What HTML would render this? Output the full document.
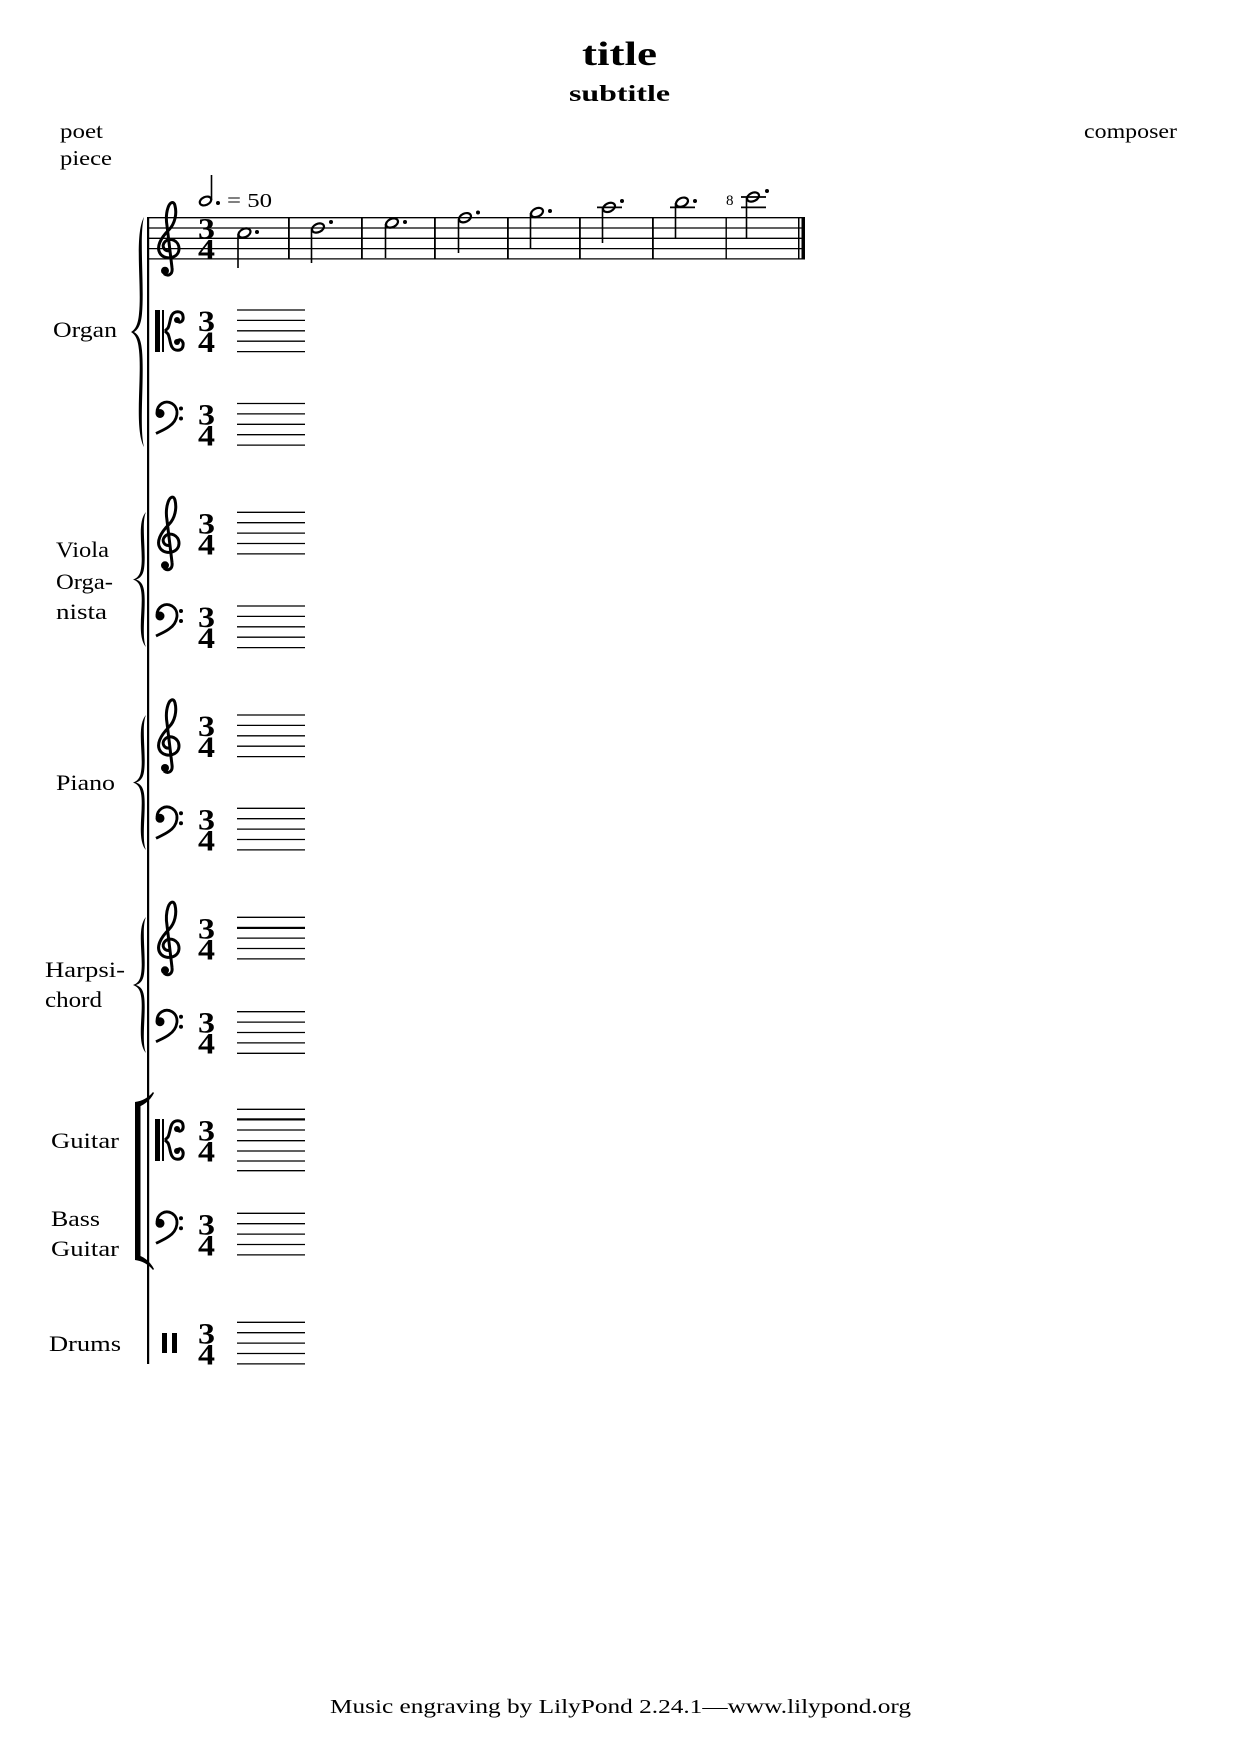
<!DOCTYPE html>
<html><head><meta charset="utf-8"><style>
html,body{margin:0;padding:0;background:#fff}
svg{display:block}
text{font-family:"Liberation Serif",serif;fill:#000}
</style></head><body>
<svg width="1241" height="1754" viewBox="0 0 1241 1754" xmlns="http://www.w3.org/2000/svg">
<defs>
<g id="treble">
<path d="M13,33 C7,34 4,28 8,24 C13,19 22,23 22,31 C22,40 10,43 4,37 C-2,30 4,20 12,12 C18,6 20,-4 18,-12 C17,-17 13,-16 11,-10 C9,-4 9,2 10,8 L15,50 C16,57 11,59 7,56" fill="none" stroke="#000" stroke-width="3"/>
<circle cx="8" cy="53" r="4"/>
</g>
<g id="bass">
<circle cx="5" cy="10" r="4.5"/>
<path d="M2,9 C2,1 10,-4 17,0 C25,5 23,17 14,23 C10,26 5,28 1,30" fill="none" stroke="#000" stroke-width="2.8"/>
<circle cx="26" cy="5" r="2"/><circle cx="26" cy="15" r="2"/>
</g>
<g id="alto">
<rect x="0" y="0" width="5" height="42"/><rect x="7" y="0" width="2" height="42"/>
<path d="M10,21 L13,18 C15,14 15,8 17,5 C19,1 27,0 28,6 C29,11 25,14 22,11" fill="none" stroke="#000" stroke-width="3"/>
<path d="M10,21 L13,24 C15,28 15,34 17,37 C19,41 27,42 28,36 C29,31 25,28 22,31" fill="none" stroke="#000" stroke-width="3"/>
<circle cx="22" cy="10" r="3"/><circle cx="22" cy="32" r="3"/>
</g>
<g id="ts">
<text x="198" y="21" font-weight="bold" font-size="30" textLength="17" lengthAdjust="spacingAndGlyphs">3</text>
<text x="198" y="42" font-weight="bold" font-size="30" textLength="17" lengthAdjust="spacingAndGlyphs">4</text>
</g>
<g id="staff" stroke="#000" stroke-width="1.3">
<line x1="237" y1="0" x2="305" y2="0"/><line x1="237" y1="10.4" x2="305" y2="10.4"/><line x1="237" y1="20.8" x2="305" y2="20.8"/><line x1="237" y1="31.2" x2="305" y2="31.2"/><line x1="237" y1="41.6" x2="305" y2="41.6"/>
</g>
<path id="brace" d="M13,0 C3,8 11,30 8,42 C7,47 4,49 0,50 C4,51 7,53 8,58 C11,70 3,92 13,100 C8,92 13.5,70 11,58 C10,53 7,51 3,50 C7,49 10,47 11,42 C13.5,30 8,8 13,0 Z"/>
</defs>

<!-- header -->
<text x="582" y="65" font-size="34" font-weight="bold" textLength="75" lengthAdjust="spacingAndGlyphs">title</text>
<text x="569" y="101" font-size="23" font-weight="bold" textLength="101" lengthAdjust="spacingAndGlyphs">subtitle</text>
<text x="60" y="138" font-size="21" textLength="43" lengthAdjust="spacingAndGlyphs">poet</text>
<text x="60" y="165" font-size="21" textLength="52" lengthAdjust="spacingAndGlyphs">piece</text>
<text x="1084" y="138" font-size="21" textLength="93" lengthAdjust="spacingAndGlyphs">composer</text>

<!-- tempo -->
<ellipse cx="205.5" cy="201" rx="6" ry="4" transform="rotate(-25 205.5 201)" fill="none" stroke="#000" stroke-width="2.2"/>
<line x1="211.5" y1="175" x2="211.5" y2="200" stroke="#000" stroke-width="1.6"/>
<circle cx="218" cy="203" r="2"/>
<text x="227" y="207" font-size="20" textLength="45" lengthAdjust="spacingAndGlyphs">= 50</text>

<!-- system line -->
<rect x="147" y="217" width="2.2" height="1147"/>

<!-- top staff -->
<g stroke="#000" stroke-width="1.3">
<line x1="148" y1="217.7" x2="805" y2="217.7"/><line x1="148" y1="228" x2="805" y2="228"/><line x1="148" y1="238.3" x2="805" y2="238.3"/><line x1="148" y1="248.6" x2="805" y2="248.6"/><line x1="148" y1="258.9" x2="805" y2="258.9"/>
</g>
<g fill="#000">
<rect x="288" y="217.7" width="1.8" height="41.2"/><rect x="361" y="217.7" width="1.8" height="41.2"/><rect x="434" y="217.7" width="1.8" height="41.2"/><rect x="507" y="217.7" width="1.8" height="41.2"/><rect x="579" y="217.7" width="1.8" height="41.2"/><rect x="652" y="217.7" width="1.8" height="41.2"/><rect x="725.5" y="217.7" width="1.4" height="41.2"/>
<rect x="798" y="217.7" width="1.5" height="41.2"/><rect x="801.5" y="217.7" width="3.5" height="41.2"/>
</g>
<use href="#treble" x="157" y="217.7"/>
<use href="#ts" y="217.7"/>

<!-- notes -->
<g fill="none" stroke="#000" stroke-width="2.2">
<ellipse cx="244.5" cy="233" rx="6.3" ry="4.2" transform="rotate(-25 244.5 233)"/>
<ellipse cx="318" cy="228" rx="6.3" ry="4.2" transform="rotate(-25 318 228)"/>
<ellipse cx="392" cy="223" rx="6.3" ry="4.2" transform="rotate(-25 392 223)"/>
<ellipse cx="465" cy="217.7" rx="6.3" ry="4.2" transform="rotate(-25 465 217.7)"/>
<ellipse cx="537" cy="212.5" rx="6.3" ry="4.2" transform="rotate(-25 537 212.5)"/>
<ellipse cx="609" cy="207.4" rx="6.3" ry="4.2" transform="rotate(-25 609 207.4)"/>
<ellipse cx="682" cy="202.2" rx="6.3" ry="4.2" transform="rotate(-25 682 202.2)"/>
<ellipse cx="753" cy="197" rx="6.3" ry="4.2" transform="rotate(-25 753 197)"/>
</g>
<g stroke="#000" stroke-width="1.6">
<line x1="238" y1="234" x2="238" y2="268"/>
<line x1="311.5" y1="229" x2="311.5" y2="263"/>
<line x1="385.5" y1="224" x2="385.5" y2="258"/>
<line x1="458.5" y1="219" x2="458.5" y2="253"/>
<line x1="530.5" y1="213" x2="530.5" y2="248"/>
<line x1="602.5" y1="208" x2="602.5" y2="243"/>
<line x1="675.5" y1="203" x2="675.5" y2="238"/>
<line x1="746.5" y1="198" x2="746.5" y2="238"/>
</g>
<g stroke="#000" stroke-width="1.8">
<line x1="597" y1="207.4" x2="622" y2="207.4"/>
<line x1="670" y1="207.4" x2="695" y2="207.4"/>
<line x1="741" y1="207.4" x2="766" y2="207.4"/>
<line x1="741" y1="197" x2="766" y2="197"/>
</g>
<g>
<circle cx="257" cy="232" r="2"/><circle cx="331" cy="222" r="2"/><circle cx="405" cy="222" r="2"/><circle cx="478" cy="212.5" r="2"/><circle cx="550" cy="211" r="2"/><circle cx="622" cy="201" r="2"/><circle cx="695" cy="201" r="2"/><circle cx="767" cy="191" r="2"/>
</g>
<text x="726" y="205" font-size="15">8</text>

<!-- Organ -->
<use href="#brace" transform="translate(131,217) scale(1,2.3)"/>
<text x="53" y="337" font-size="22" textLength="64" lengthAdjust="spacingAndGlyphs">Organ</text>
<use href="#staff" y="310"/><use href="#alto" x="155" y="310"/><use href="#ts" y="310"/>
<use href="#staff" y="403.5"/><use href="#bass" x="155" y="403.5"/><use href="#ts" y="403.5"/>

<!-- Viola Organista -->
<use href="#brace" transform="translate(133,512) scale(1,1.35)"/>
<text x="56" y="557" font-size="22" textLength="53" lengthAdjust="spacingAndGlyphs">Viola</text>
<text x="56" y="589" font-size="22" textLength="57" lengthAdjust="spacingAndGlyphs">Orga-</text>
<text x="56" y="619" font-size="22" textLength="51" lengthAdjust="spacingAndGlyphs">nista</text>
<use href="#staff" y="512.3"/><use href="#treble" x="157" y="512.3"/><use href="#ts" y="512.3"/>
<use href="#staff" y="606"/><use href="#bass" x="155" y="606"/><use href="#ts" y="606"/>

<!-- Piano -->
<use href="#brace" transform="translate(133,715) scale(1,1.35)"/>
<text x="56" y="790" font-size="22" textLength="59" lengthAdjust="spacingAndGlyphs">Piano</text>
<use href="#staff" y="715"/><use href="#treble" x="157" y="715"/><use href="#ts" y="715"/>
<use href="#staff" y="808.3"/><use href="#bass" x="155" y="808.3"/><use href="#ts" y="808.3"/>

<!-- Harpsichord -->
<use href="#brace" transform="translate(133,917) scale(1,1.36)"/>
<text x="45" y="977" font-size="22" textLength="80" lengthAdjust="spacingAndGlyphs">Harpsi-</text>
<text x="45" y="1007" font-size="22" textLength="57" lengthAdjust="spacingAndGlyphs">chord</text>
<use href="#staff" y="917.3"/><rect x="237" y="926.8" width="68" height="2.2"/><use href="#treble" x="157" y="917.3"/><use href="#ts" y="917.3"/>
<use href="#staff" y="1011.7"/><use href="#bass" x="155" y="1011.7"/><use href="#ts" y="1011.7"/>

<!-- Guitar bracket -->
<rect x="135" y="1104" width="5.5" height="155"/>
<path d="M135,1106 L135,1102 C142,1101 148,1098 153,1092 L154,1093 C150,1101 143,1106 135,1108 Z"/>
<path d="M135,1256 L135,1260 C142,1261 148,1264 153,1270 L154,1269 C150,1261 143,1256 135,1254 Z"/>
<text x="51" y="1148" font-size="22" textLength="68" lengthAdjust="spacingAndGlyphs">Guitar</text>
<g stroke="#000" stroke-width="1.3">
<line x1="237" y1="1109.3" x2="305" y2="1109.3"/><line x1="237" y1="1130" x2="305" y2="1130"/><line x1="237" y1="1140.7" x2="305" y2="1140.7"/><line x1="237" y1="1151" x2="305" y2="1151"/><line x1="237" y1="1161" x2="305" y2="1161"/><line x1="237" y1="1170.7" x2="305" y2="1170.7"/>
</g>
<rect x="237" y="1118.3" width="68" height="2.2"/>
<use href="#alto" x="155" y="1119"/><use href="#ts" y="1119.5"/>

<text x="51" y="1226" font-size="22" textLength="49" lengthAdjust="spacingAndGlyphs">Bass</text>
<text x="51" y="1256" font-size="22" textLength="68" lengthAdjust="spacingAndGlyphs">Guitar</text>
<use href="#staff" y="1213.3"/><use href="#bass" x="155" y="1213.3"/><use href="#ts" y="1213.3"/>

<!-- Drums -->
<text x="49" y="1351" font-size="22" textLength="72" lengthAdjust="spacingAndGlyphs">Drums</text>
<use href="#staff" y="1322.3"/>
<rect x="162" y="1333" width="5" height="20"/><rect x="172" y="1333" width="5" height="20"/>
<use href="#ts" y="1322.3"/>

<!-- footer -->
<text x="330" y="1713" font-size="20" textLength="581" lengthAdjust="spacingAndGlyphs">Music engraving by LilyPond 2.24.1—www.lilypond.org</text>
</svg>
</body></html>
